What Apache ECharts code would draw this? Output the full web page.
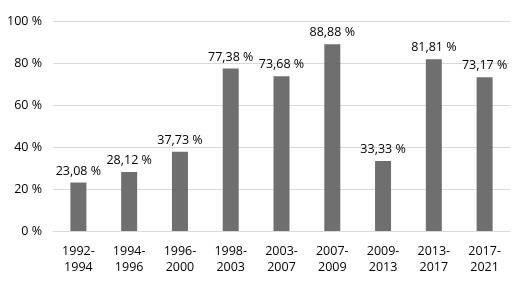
<!DOCTYPE html>
<html><head><meta charset="utf-8">
<script src="https://cdn.jsdelivr.net/npm/echarts@6/dist/echarts.min.js"></script>
<style>html,body{margin:0;padding:0;background:#fff}#c{width:524px;height:283px}</style>
</head><body><div id="c"></div>
<script>
const categories = ["1992-\n1994","1994-\n1996","1996-\n2000","1998-\n2003","2003-\n2007","2007-\n2009","2009-\n2013","2013-\n2017","2017-\n2021"];
const values = [23.08, 28.12, 37.73, 77.38, 73.68, 88.88, 33.33, 81.81, 73.17];
const yTicks = [0, 20, 40, 60, 80, 100];
const font = '"Open Sans", "Noto Sans", sans-serif';
const chart = echarts.init(document.getElementById('c'), null, {renderer:'canvas'});
chart.setOption({
  animation: false,
  grid: {left: 53, right: 14, top: 21, bottom: 52, containLabel: false},
  xAxis: {
    type: 'category', data: categories,
    axisLine: {show: true, lineStyle: {color: '#d9d9d9', width: 1}},
    axisTick: {show: false},
    axisLabel: {color: '#000', fontFamily: font, fontSize: 12.5, lineHeight: 16, margin: 12, interval: 0}
  },
  yAxis: {
    type: 'value', min: 0, max: 100, interval: 20,
    axisLine: {show: false}, axisTick: {show: false},
    splitLine: {lineStyle: {color: '#d9d9d9', width: 1}},
    axisLabel: {color: '#000', fontFamily: font, fontSize: 12.5, margin: 11,
      formatter: v => yTicks.includes(v) ? v + ' %' : ''}
  },
  series: [{
    type: 'bar', data: values, barWidth: 16,
    itemStyle: {color: '#6f6f6f'},
    label: {show: true, position: 'top', distance: 5, color: '#000', fontFamily: font, fontSize: 12.5,
      formatter: p => p.value.toFixed(2).replace('.', ',') + ' %'}
  }]
});
</script></body></html>
